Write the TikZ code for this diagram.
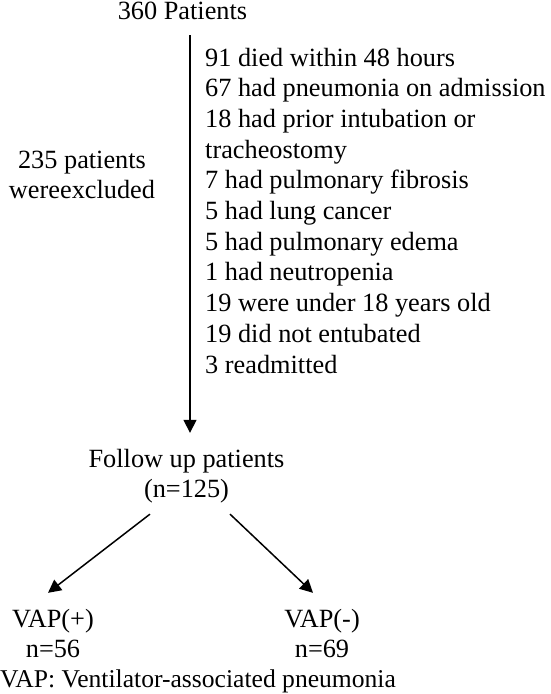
\documentclass[tikz,border=0pt]{standalone}
\usepackage{fontspec}
\setmainfont{Liberation Serif}
\usetikzlibrary{arrows.meta}
\begin{document}
\begin{tikzpicture}[x=1pt,y=-1pt,
  txt/.style={inner sep=0pt, font=\fontsize{26.3}{30.7}\selectfont},
  flow/.style={line width=1.5pt, -{Triangle[length=13pt,width=13pt]}}]
\useasboundingbox (0,0) rectangle (551,694);
\node[txt, anchor=base] (top) at (182.5,19) {360 Patients};
\coordinate (start) at (190,35);
\node[txt, anchor=base west] (excl) at (205,66) {\begin{tabular}[t]{@{}l@{}}
91 died within 48 hours\\
67 had pneumonia on admission\\
18 had prior intubation or\\
tracheostomy\\
7 had pulmonary fibrosis\\
5 had lung cancer\\
5 had pulmonary edema\\
1 had neutropenia\\
19 were under 18 years old\\
19 did not entubated\\
3 readmitted\end{tabular}};
\node[txt, anchor=base] (n235) at (82,168) {\begin{tabular}[t]{@{}c@{}}235 patients\\wereexcluded\end{tabular}};
\node[txt, anchor=base] (follow) at (186.5,467) {\begin{tabular}[t]{@{}c@{}}Follow up patients\\(n=125)\end{tabular}};
\node[txt, anchor=base] (vp) at (53,627) {\begin{tabular}[t]{@{}c@{}}VAP(+)\\n=56\end{tabular}};
\node[txt, anchor=base] (vm) at (322,627) {\begin{tabular}[t]{@{}c@{}}VAP(-)\\n=69\end{tabular}};
\node[txt, anchor=base west, font=\fontsize{25.6}{30.7}\selectfont] (legend) at (0,687) {VAP: Ventilator-associated pneumonia};
\draw[flow] (start) -- ([shift={(0,-12.5)}]start |- follow.north);
\draw[flow] ([shift={(-36.5,7)}]follow.south) -- ([shift={(-5,-12.5)}]vp.north);
\draw[flow] ([shift={(43.5,7)}]follow.south) -- ([shift={(-9,-12.5)}]vm.north);
\end{tikzpicture}
\end{document}
